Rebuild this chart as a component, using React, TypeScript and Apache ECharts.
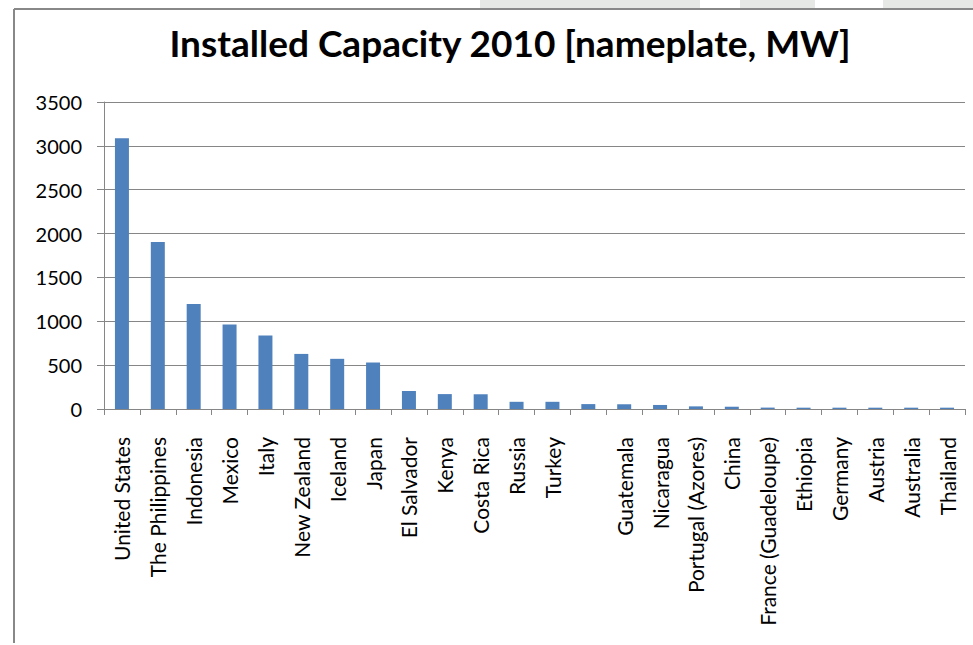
import React, { useEffect, useRef } from "react";
import * as echarts from "echarts";

const titleText = "Installed Capacity 2010 [nameplate, MW]";

const countries = [
  "United States",
  "The Philippines",
  "Indonesia",
  "Mexico",
  "Italy",
  "New Zealand",
  "Iceland",
  "Japan",
  "El Salvador",
  "Kenya",
  "Costa Rica",
  "Russia",
  "Turkey",
  " ",
  "Guatemala",
  "Nicaragua",
  "Portugal (Azores)",
  "China",
  "France (Guadeloupe)",
  "Ethiopia",
  "Germany",
  "Austria",
  "Australia",
  "Thailand",
];

const capacityMW = [
  3086, 1904, 1197, 962, 838, 628, 572, 530, 205, 170, 168, 82, 82, 56, 54,
  46, 30, 26, 16, 15, 15, 15, 15, 15,
];

const yTicks = { min: 0, max: 3500, interval: 500 };

export default function App() {
  const ref = useRef<HTMLDivElement>(null);

  useEffect(() => {
    if (!ref.current) return;
    const chart = echarts.init(ref.current, undefined, { renderer: "svg" });
    const gray = "#868686";
    chart.setOption({
      animation: false,
      backgroundColor: "#ffffff",
      title: {
        text: titleText,
        left: 505,
        top: 19,
        textAlign: "center",
        textStyle: {
          fontFamily: "Lato",
          fontWeight: "bold",
          fontSize: 37,
          color: "#000000",
        },
      },
      grid: {
        left: 104,
        right: 8,
        top: 102,
        bottom: 236,
        containLabel: false,
      },
      xAxis: {
        type: "category",
        data: countries,
        boundaryGap: true,
        axisLine: { show: true, lineStyle: { color: gray, width: 1 } },
        axisTick: {
          show: true,
          length: 6,
          inside: false,
          lineStyle: { color: gray },
        },
        axisLabel: {
          interval: 0,
          rotate: 90,
          margin: 28,
          fontFamily: "Lato",
          fontSize: 21,
          color: "#000000",
        },
        splitLine: { show: false },
      },
      yAxis: {
        type: "value",
        min: yTicks.min,
        max: yTicks.max,
        interval: yTicks.interval,
        axisLine: { show: true, lineStyle: { color: gray, width: 1 } },
        axisTick: { show: true, length: 7, lineStyle: { color: gray } },
        axisLabel: {
          margin: 22,
          fontFamily: "Lato",
          fontSize: 20,
          color: "#000000",
          formatter: (v: number) => String(v),
        },
        splitLine: { show: true, lineStyle: { color: gray, width: 1 } },
      },
      series: [
        {
          type: "bar",
          data: capacityMW,
          barWidth: 14,
          itemStyle: { color: "#4F81BD" },
        },
      ],
      graphic: [
        { type: "rect", shape: { x: 480, y: 0, width: 220, height: 8 }, style: { fill: "#e6e8e6" }, silent: true },
        { type: "rect", shape: { x: 740, y: 0, width: 75, height: 8 }, style: { fill: "#e6e8e6" }, silent: true },
        { type: "rect", shape: { x: 883, y: 0, width: 90, height: 8 }, style: { fill: "#e6e8e6" }, silent: true },
        { type: "line", shape: { x1: 14, y1: 9, x2: 973, y2: 9 }, style: { stroke: "#888888", lineWidth: 2 }, silent: true },
        { type: "line", shape: { x1: 14, y1: 9, x2: 14, y2: 643 }, style: { stroke: "#888888", lineWidth: 2 }, silent: true },
      ],
    });
    return () => chart.dispose();
  }, []);

  return (
    <div
      ref={ref}
      style={{ position: "fixed", left: 0, top: 0, width: 973, height: 645 }}
    />
  );
}
